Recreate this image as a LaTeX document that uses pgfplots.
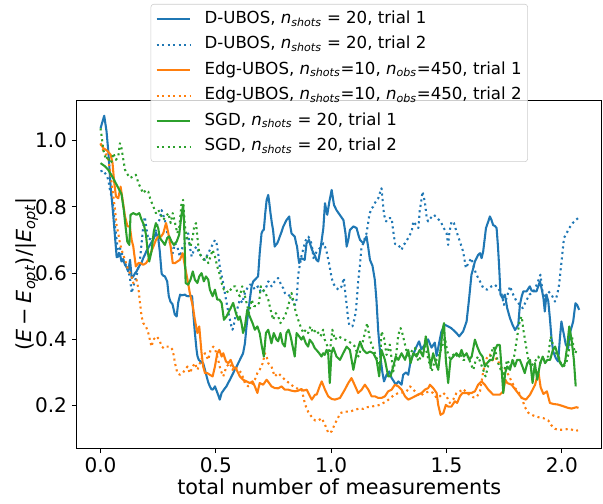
\documentclass[border=0pt]{standalone}
\usepackage{fontspec}
\setmainfont{DejaVu Sans}
\usepackage{pgfplots}
\pgfplotsset{compat=1.18}
\definecolor{c0}{HTML}{1F77B4}
\definecolor{c1}{HTML}{FF7F0E}
\definecolor{c2}{HTML}{2CA02C}
\newcommand{\ns}{\textit{n}\textsubscript{\textit{shots}}}
\newcommand{\no}{\textit{n}\textsubscript{\textit{obs}}}
\newcommand{\Eo}{\textit{E}\textsubscript{\textit{opt}}}
\begin{document}
\begin{tikzpicture}
\useasboundingbox (-55.4pt,-40.3pt) rectangle (380.4pt,323.9pt);
\begin{axis}[
  scale only axis, width=379.6pt, height=251.2pt,
  xmin=-0.1035, xmax=2.1735, ymin=0.0714, ymax=1.1208,
  xtick={0,0.5,1,1.5,2}, xticklabels={0.0,0.5,1.0,1.5,2.0},
  ytick={0.2,0.4,0.6,0.8,1.0}, yticklabels={0.2,0.4,0.6,0.8,1.0},
  tick pos=left, tick align=outside, major tick length=3.5pt,
  every tick/.style={black, line width=0.8pt},
  axis line style={line width=0.8pt},
  ticklabel style={font=\fontsize{14.5}{17}\selectfont},
  xlabel={total number of measurements},
  xlabel style={at={(axis description cs:0.5,-0.1343)}, anchor=base, font=\fontsize{15}{18}\selectfont},
  ylabel={(\textit{E}\hspace{0.22em}−\hspace{0.22em}\Eo)/|\Eo|},
  ylabel style={at={(axis description cs:-0.0946,0.5)}, anchor=center, font=\fontsize{15}{18}\selectfont},
  legend style={at={(0.5,1.278)}, anchor=north, font=\fontsize{12}{14}\selectfont,
    draw=black!20, rounded corners=2pt, fill=white, fill opacity=0.8, text opacity=1,
    row sep=4.6pt, inner xsep=3.3pt, inner ysep=4pt,
    nodes={inner sep=1pt, text height=8.8pt, text depth=3pt}},
  legend cell align=left,
  legend image code/.code={\draw[#1] (0pt,0pt) -- (24.5pt,0pt); \path (33pt,0pt);},
  every axis plot/.append style={line width=1.5pt, line join=round},
]
\addplot[c0] table {
0.000 1.037
0.016 1.075
0.026 1.028
0.034 0.965
0.044 0.86
0.055 0.776
0.062 0.716
0.070 0.648
0.077 0.650
0.084 0.658
0.091 0.635
0.099 0.640
0.106 0.625
0.113 0.618
0.120 0.605
0.128 0.640
0.135 0.585
0.142 0.590
0.150 0.600
0.156 0.605
0.163 0.615
0.171 0.625
0.178 0.632
0.185 0.645
0.192 0.655
0.200 0.668
0.210 0.680
0.220 0.692
0.229 0.702
0.240 0.722
0.250 0.706
0.257 0.665
0.265 0.598
0.272 0.592
0.279 0.590
0.289 0.575
0.296 0.530
0.303 0.514
0.312 0.506
0.322 0.475
0.330 0.469
0.337 0.512
0.345 0.535
0.352 0.533
0.360 0.534
0.366 0.535
0.373 0.531
0.380 0.530
0.390 0.532
0.397 0.530
0.402 0.48
0.409 0.42
0.416 0.37
0.420 0.35
0.426 0.338
0.431 0.335
0.438 0.330
0.445 0.328
0.452 0.31
0.460 0.288
0.467 0.27
0.474 0.258
0.480 0.25
0.486 0.248
0.491 0.252
0.496 0.258
0.503 0.245
0.510 0.232
0.517 0.218
0.525 0.238
0.532 0.245
0.539 0.252
0.546 0.258
0.553 0.268
0.561 0.278
0.568 0.288
0.575 0.298
0.582 0.308
0.590 0.318
0.597 0.328
0.604 0.338
0.611 0.348
0.618 0.358
0.626 0.388
0.633 0.44
0.640 0.48
0.647 0.519
0.655 0.56
0.662 0.575
0.669 0.58
0.676 0.585
0.683 0.59
0.690 0.66
0.698 0.72
0.703 0.728
0.708 0.731
0.714 0.78
0.720 0.82
0.727 0.836
0.732 0.81
0.737 0.78
0.743 0.75
0.748 0.73
0.755 0.68
0.760 0.685
0.766 0.69
0.772 0.70
0.777 0.71
0.785 0.725
0.792 0.74
0.799 0.75
0.806 0.76
0.812 0.765
0.818 0.771
0.823 0.74
0.828 0.72
0.835 0.715
0.842 0.71
0.848 0.69
0.852 0.68
0.857 0.65
0.861 0.63
0.866 0.64
0.871 0.645
0.878 0.642
0.885 0.64
0.893 0.69
0.898 0.695
0.904 0.70
0.910 0.685
0.916 0.672
0.922 0.662
0.930 0.652
0.936 0.64
0.944 0.635
0.954 0.675
0.966 0.736
0.973 0.811
0.983 0.776
0.992 0.816
1.002 0.851
1.012 0.806
1.023 0.79
1.038 0.775
1.053 0.76
1.062 0.72
1.067 0.68
1.074 0.70
1.081 0.73
1.096 0.741
1.110 0.736
1.118 0.715
1.125 0.70
1.139 0.69
1.153 0.711
1.160 0.68
1.168 0.64
1.179 0.622
1.189 0.58
1.196 0.52
1.204 0.424
1.214 0.343
1.222 0.30
1.229 0.273
1.240 0.293
1.252 0.303
1.262 0.283
1.270 0.275
1.280 0.263
1.291 0.273
1.305 0.263
1.312 0.293
1.324 0.300
1.334 0.293
1.344 0.333
1.355 0.353
1.367 0.374
1.381 0.394
1.391 0.37
1.406 0.384
1.420 0.40
1.435 0.375
1.449 0.39
1.457 0.35
1.464 0.375
1.478 0.424
1.493 0.444
1.507 0.439
1.520 0.434
1.536 0.424
1.548 0.415
1.555 0.409
1.565 0.418
1.572 0.424
1.587 0.454
1.598 0.524
1.608 0.595
1.616 0.615
1.623 0.635
1.637 0.655
1.645 0.66
1.652 0.645
1.659 0.666
1.671 0.736
1.681 0.756
1.688 0.771
1.695 0.76
1.702 0.745
1.710 0.742
1.717 0.736
1.723 0.68
1.728 0.62
1.734 0.535
1.743 0.524
1.753 0.535
1.763 0.494
1.775 0.464
1.786 0.444
1.797 0.428
1.811 0.444
1.818 0.504
1.826 0.53
1.833 0.545
1.847 0.545
1.861 0.56
1.868 0.548
1.876 0.545
1.890 0.545
1.905 0.575
1.913 0.55
1.920 0.525
1.926 0.484
1.933 0.535
1.941 0.515
1.948 0.464
1.955 0.404
1.962 0.364
1.974 0.343
1.984 0.333
1.991 0.40
1.998 0.454
2.006 0.424
2.017 0.384
2.027 0.373
2.037 0.424
2.049 0.454
2.059 0.509
2.066 0.504
2.075 0.489
};
\addlegendentry{D-UBOS, \ns{} = 20, trial 1}
\addplot[c0, dash pattern=on 1.5pt off 2.475pt, line cap=butt] table {
0.000 0.907
0.012 0.91
0.019 0.902
0.027 0.895
0.034 0.88
0.041 0.851
0.048 0.83
0.055 0.80
0.063 0.74
0.070 0.70
0.077 0.65
0.084 0.675
0.091 0.665
0.099 0.64
0.106 0.63
0.113 0.62
0.120 0.605
0.127 0.59
0.135 0.54
0.142 0.56
0.149 0.575
0.159 0.60
0.165 0.62
0.171 0.64
0.178 0.69
0.185 0.74
0.192 0.77
0.200 0.73
0.205 0.71
0.211 0.70
0.221 0.71
0.231 0.70
0.237 0.72
0.243 0.74
0.249 0.75
0.255 0.76
0.260 0.775
0.265 0.79
0.272 0.775
0.279 0.76
0.286 0.73
0.294 0.71
0.301 0.69
0.307 0.675
0.313 0.66
0.318 0.675
0.323 0.69
0.333 0.68
0.338 0.665
0.344 0.65
0.350 0.665
0.356 0.68
0.366 0.69
0.373 0.705
0.380 0.72
0.387 0.68
0.395 0.65
0.400 0.66
0.405 0.67
0.416 0.68
0.428 0.66
0.438 0.65
0.446 0.645
0.453 0.64
0.460 0.65
0.467 0.66
0.474 0.67
0.481 0.68
0.489 0.69
0.496 0.70
0.503 0.69
0.510 0.66
0.517 0.62
0.522 0.60
0.529 0.58
0.534 0.56
0.539 0.54
0.544 0.52
0.549 0.50
0.555 0.48
0.561 0.459
0.567 0.44
0.572 0.429
0.577 0.44
0.582 0.459
0.587 0.475
0.592 0.49
0.598 0.505
0.604 0.52
0.610 0.515
0.615 0.51
0.620 0.525
0.626 0.54
0.633 0.55
0.640 0.56
0.648 0.565
0.655 0.565
0.662 0.558
0.669 0.55
0.676 0.555
0.683 0.56
0.690 0.55
0.698 0.54
0.705 0.545
0.712 0.55
0.720 0.56
0.727 0.575
0.734 0.57
0.741 0.56
0.748 0.565
0.755 0.575
0.763 0.58
0.770 0.585
0.777 0.575
0.785 0.56
0.792 0.555
0.799 0.54
0.806 0.535
0.814 0.535
0.821 0.53
0.829 0.525
0.836 0.515
0.843 0.504
0.850 0.52
0.857 0.595
0.864 0.625
0.872 0.655
0.880 0.675
0.887 0.695
0.894 0.705
0.901 0.71
0.909 0.70
0.916 0.685
0.923 0.645
0.930 0.655
0.937 0.665
0.944 0.67
0.951 0.675
0.958 0.68
0.966 0.69
0.973 0.68
0.980 0.665
0.986 0.645
0.992 0.625
1.002 0.585
1.009 0.57
1.016 0.56
1.023 0.555
1.031 0.55
1.038 0.552
1.045 0.56
1.055 0.585
1.061 0.54
1.067 0.504
1.072 0.47
1.078 0.444
1.085 0.44
1.092 0.439
1.100 0.46
1.107 0.484
1.112 0.53
1.117 0.575
1.124 0.62
1.131 0.675
1.139 0.69
1.146 0.706
1.153 0.72
1.160 0.75
1.165 0.776
1.175 0.796
1.182 0.80
1.189 0.811
1.197 0.82
1.204 0.826
1.210 0.84
1.218 0.856
1.223 0.82
1.229 0.776
1.238 0.756
1.245 0.765
1.252 0.766
1.262 0.766
1.269 0.726
1.277 0.688
1.291 0.685
1.298 0.678
1.305 0.67
1.313 0.685
1.320 0.69
1.334 0.706
1.349 0.726
1.356 0.756
1.367 0.746
1.378 0.736
1.384 0.79
1.388 0.806
1.396 0.846
1.401 0.83
1.406 0.816
1.414 0.766
1.420 0.756
1.431 0.766
1.445 0.776
1.459 0.766
1.474 0.756
1.488 0.736
1.500 0.721
1.507 0.685
1.512 0.72
1.517 0.74
1.522 0.756
1.532 0.751
1.543 0.726
1.558 0.695
1.572 0.665
1.578 0.64
1.584 0.615
1.598 0.635
1.608 0.645
1.619 0.615
1.630 0.595
1.645 0.575
1.659 0.555
1.676 0.55
1.695 0.56
1.709 0.565
1.724 0.555
1.739 0.535
1.749 0.504
1.760 0.524
1.775 0.56
1.789 0.535
1.804 0.514
1.818 0.504
1.830 0.494
1.844 0.514
1.859 0.535
1.876 0.542
1.893 0.568
1.907 0.595
1.916 0.545
1.926 0.525
1.941 0.545
1.955 0.535
1.970 0.514
1.980 0.535
1.988 0.565
1.994 0.605
2.003 0.665
2.009 0.706
2.021 0.721
2.032 0.736
2.047 0.751
2.061 0.761
2.071 0.766
};
\addlegendentry{D-UBOS, \ns{} = 20, trial 2}
\addplot[c1] table {
0.000 0.992
0.012 0.977
0.024 0.972
0.031 0.968
0.038 0.962
0.044 0.957
0.052 0.932
0.056 0.90
0.060 0.87
0.067 0.831
0.077 0.826
0.087 0.861
0.096 0.82
0.106 0.771
0.117 0.741
0.127 0.741
0.135 0.70
0.142 0.68
0.153 0.62
0.164 0.63
0.174 0.63
0.185 0.625
0.197 0.63
0.207 0.64
0.217 0.66
0.229 0.68
0.240 0.70
0.250 0.71
0.262 0.71
0.272 0.72
0.284 0.751
0.294 0.72
0.304 0.68
0.313 0.63
0.323 0.63
0.333 0.635
0.344 0.64
0.356 0.66
0.366 0.62
0.377 0.58
0.387 0.54
0.400 0.50
0.409 0.459
0.420 0.419
0.428 0.439
0.438 0.358
0.445 0.318
0.453 0.298
0.463 0.298
0.474 0.293
0.486 0.288
0.496 0.318
0.506 0.358
0.515 0.368
0.525 0.348
0.532 0.358
0.544 0.333
0.554 0.328
0.564 0.338
0.575 0.318
0.590 0.308
0.604 0.288
0.618 0.278
0.633 0.273
0.647 0.268
0.659 0.273
0.669 0.258
0.680 0.238
0.690 0.268
0.705 0.263
0.720 0.278
0.731 0.268
0.741 0.258
0.755 0.253
0.770 0.252
0.785 0.258
0.799 0.248
0.814 0.248
0.828 0.245
0.843 0.243
0.857 0.245
0.871 0.25
0.879 0.245
0.894 0.248
0.908 0.228
0.916 0.218
0.930 0.233
0.937 0.233
0.951 0.26
0.959 0.273
0.973 0.248
0.987 0.228
1.002 0.22
1.016 0.218
1.038 0.223
1.059 0.248
1.074 0.268
1.088 0.283
1.103 0.26
1.117 0.238
1.132 0.248
1.146 0.263
1.161 0.248
1.175 0.228
1.190 0.228
1.204 0.223
1.218 0.223
1.233 0.228
1.247 0.243
1.262 0.248
1.276 0.263
1.291 0.258
1.305 0.248
1.320 0.228
1.334 0.218
1.349 0.223
1.363 0.228
1.377 0.233
1.392 0.238
1.406 0.248
1.421 0.253
1.428 0.263
1.442 0.253
1.457 0.238
1.464 0.202
1.474 0.172
1.486 0.177
1.497 0.202
1.507 0.197
1.521 0.197
1.536 0.213
1.546 0.208
1.558 0.228
1.569 0.238
1.588 0.238
1.608 0.238
1.623 0.243
1.637 0.263
1.652 0.273
1.666 0.263
1.681 0.248
1.702 0.233
1.731 0.233
1.746 0.243
1.755 0.278
1.763 0.268
1.782 0.263
1.804 0.243
1.826 0.223
1.844 0.218
1.862 0.233
1.884 0.263
1.898 0.303
1.908 0.255
1.920 0.235
1.935 0.243
1.948 0.208
1.962 0.205
1.984 0.203
2.006 0.198
2.027 0.193
2.042 0.191
2.063 0.195
2.072 0.193
};
\addlegendentry{Edg-UBOS, \ns=10, \no=450, trial 1}
\addplot[c1, dash pattern=on 1.5pt off 2.475pt, line cap=butt] table {
0.000 0.99
0.012 0.97
0.027 0.955
0.034 0.942
0.041 0.912
0.052 0.851
0.063 0.791
0.070 0.741
0.077 0.72
0.084 0.69
0.096 0.66
0.106 0.64
0.120 0.61
0.135 0.59
0.142 0.57
0.156 0.58
0.165 0.55
0.171 0.51
0.178 0.469
0.185 0.449
0.197 0.439
0.207 0.419
0.214 0.399
0.221 0.378
0.229 0.399
0.243 0.409
0.255 0.399
0.265 0.378
0.275 0.373
0.286 0.378
0.301 0.378
0.313 0.368
0.323 0.328
0.333 0.298
0.344 0.293
0.356 0.298
0.366 0.308
0.377 0.318
0.387 0.298
0.400 0.318
0.409 0.328
0.420 0.308
0.431 0.328
0.442 0.348
0.453 0.358
0.467 0.338
0.477 0.368
0.489 0.378
0.500 0.363
0.510 0.338
0.520 0.308
0.532 0.288
0.546 0.318
0.561 0.328
0.572 0.308
0.582 0.318
0.597 0.308
0.611 0.298
0.626 0.268
0.640 0.258
0.655 0.263
0.669 0.278
0.680 0.298
0.690 0.308
0.703 0.328
0.713 0.358
0.720 0.348
0.727 0.328
0.741 0.318
0.755 0.288
0.770 0.298
0.785 0.288
0.799 0.278
0.814 0.27
0.828 0.262
0.843 0.255
0.857 0.25
0.872 0.248
0.887 0.203
0.901 0.18
0.916 0.165
0.930 0.155
0.944 0.155
0.959 0.162
0.973 0.142
0.988 0.117
1.002 0.122
1.016 0.145
1.031 0.165
1.038 0.177
1.059 0.182
1.081 0.182
1.103 0.187
1.125 0.192
1.139 0.19
1.154 0.195
1.175 0.197
1.197 0.2
1.211 0.202
1.226 0.208
1.240 0.213
1.255 0.222
1.269 0.23
1.291 0.238
1.313 0.24
1.327 0.243
1.342 0.258
1.356 0.248
1.370 0.238
1.384 0.228
1.399 0.236
1.414 0.24
1.428 0.243
1.442 0.238
1.457 0.223
1.471 0.228
1.486 0.238
1.500 0.228
1.514 0.208
1.529 0.218
1.543 0.238
1.558 0.243
1.572 0.25
1.594 0.235
1.616 0.225
1.630 0.225
1.645 0.243
1.659 0.303
1.674 0.343
1.688 0.354
1.702 0.333
1.717 0.343
1.739 0.313
1.753 0.313
1.768 0.293
1.782 0.273
1.797 0.253
1.811 0.243
1.826 0.223
1.840 0.195
1.855 0.178
1.876 0.17
1.898 0.165
1.920 0.162
1.941 0.155
1.955 0.14
1.970 0.13
1.984 0.127
2.006 0.127
2.032 0.13
2.057 0.124
2.070 0.125
};
\addlegendentry{Edg-UBOS, \ns=10, \no=450, trial 2}
\addplot[c2] table {
0.000 0.932
0.020 0.922
0.033 0.912
0.048 0.895
0.062 0.877
0.077 0.857
0.091 0.838
0.101 0.79
0.106 0.756
0.116 0.695
0.125 0.685
0.130 0.776
0.142 0.781
0.156 0.776
0.168 0.781
0.178 0.761
0.188 0.746
0.197 0.716
0.203 0.675
0.211 0.635
0.221 0.665
0.231 0.726
0.240 0.751
0.250 0.736
0.257 0.706
0.269 0.695
0.279 0.685
0.289 0.706
0.298 0.711
0.308 0.695
0.318 0.685
0.330 0.695
0.341 0.716
0.351 0.776
0.358 0.806
0.362 0.76
0.366 0.65
0.369 0.57
0.380 0.565
0.390 0.58
0.400 0.605
0.409 0.58
0.420 0.57
0.428 0.59
0.438 0.60
0.448 0.575
0.457 0.59
0.467 0.58
0.474 0.55
0.486 0.53
0.496 0.55
0.506 0.52
0.515 0.52
0.525 0.51
0.535 0.459
0.546 0.469
0.553 0.479
0.564 0.494
0.575 0.51
0.587 0.479
0.597 0.459
0.604 0.469
0.611 0.449
0.618 0.419
0.626 0.439
0.636 0.489
0.647 0.469
0.659 0.449
0.669 0.429
0.680 0.439
0.690 0.419
0.699 0.38
0.708 0.348
0.717 0.419
0.727 0.429
0.734 0.409
0.741 0.388
0.751 0.419
0.763 0.399
0.770 0.394
0.780 0.419
0.789 0.388
0.799 0.378
0.806 0.419
0.815 0.429
0.824 0.409
0.833 0.378
0.842 0.348
0.850 0.419
0.861 0.409
0.871 0.399
0.879 0.409
0.890 0.388
0.900 0.378
0.907 0.399
0.919 0.388
0.929 0.373
0.936 0.368
0.948 0.358
0.958 0.348
0.965 0.358
0.972 0.353
0.980 0.368
0.987 0.358
0.994 0.268
1.001 0.358
1.009 0.375
1.023 0.348
1.038 0.338
1.052 0.358
1.067 0.378
1.081 0.368
1.096 0.308
1.110 0.358
1.125 0.393
1.139 0.368
1.154 0.358
1.168 0.363
1.183 0.358
1.197 0.338
1.208 0.288
1.218 0.368
1.233 0.338
1.247 0.288
1.257 0.288
1.269 0.318
1.280 0.348
1.291 0.338
1.305 0.358
1.320 0.338
1.334 0.368
1.344 0.328
1.356 0.358
1.370 0.348
1.384 0.368
1.398 0.348
1.410 0.409
1.420 0.368
1.431 0.318
1.442 0.358
1.454 0.328
1.464 0.308
1.474 0.368
1.483 0.429
1.489 0.449
1.497 0.338
1.507 0.268
1.517 0.338
1.529 0.348
1.543 0.358
1.555 0.348
1.565 0.368
1.575 0.348
1.587 0.358
1.598 0.338
1.609 0.348
1.623 0.399
1.633 0.378
1.645 0.358
1.656 0.348
1.666 0.318
1.676 0.328
1.688 0.338
1.700 0.338
1.710 0.368
1.720 0.383
1.731 0.383
1.738 0.318
1.746 0.238
1.754 0.298
1.763 0.318
1.775 0.308
1.786 0.338
1.796 0.318
1.806 0.338
1.818 0.338
1.829 0.318
1.839 0.298
1.850 0.328
1.862 0.338
1.873 0.268
1.883 0.328
1.893 0.278
1.906 0.328
1.917 0.348
1.927 0.328
1.937 0.338
1.949 0.338
1.961 0.368
1.971 0.378
1.980 0.358
1.993 0.328
2.003 0.318
2.013 0.328
2.023 0.378
2.032 0.439
2.042 0.399
2.052 0.338
2.060 0.258
};
\addlegendentry{SGD, \ns{} = 20, trial 1}
\addplot[c2, dash pattern=on 1.5pt off 2.475pt, line cap=butt] table {
0.000 1.037
0.005 1.012
0.012 0.972
0.024 0.942
0.034 0.952
0.041 0.932
0.048 0.937
0.055 0.962
0.067 0.942
0.077 0.952
0.084 0.992
0.091 0.977
0.099 0.942
0.106 0.912
0.113 0.902
0.128 0.887
0.142 0.892
0.153 0.897
0.164 0.872
0.174 0.857
0.185 0.841
0.197 0.851
0.207 0.846
0.217 0.821
0.229 0.801
0.240 0.781
0.250 0.791
0.261 0.776
0.272 0.761
0.284 0.771
0.294 0.781
0.304 0.751
0.313 0.781
0.323 0.751
0.333 0.72
0.342 0.741
0.351 0.811
0.358 0.821
0.366 0.741
0.373 0.71
0.380 0.70
0.390 0.68
0.400 0.71
0.406 0.741
0.414 0.751
0.421 0.70
0.428 0.66
0.438 0.65
0.448 0.64
0.460 0.65
0.467 0.63
0.477 0.65
0.486 0.67
0.496 0.65
0.506 0.62
0.515 0.60
0.525 0.57
0.535 0.55
0.544 0.55
0.554 0.54
0.564 0.55
0.575 0.56
0.585 0.56
0.594 0.54
0.604 0.53
0.614 0.56
0.623 0.54
0.633 0.51
0.644 0.479
0.655 0.52
0.665 0.50
0.676 0.50
0.687 0.51
0.695 0.56
0.705 0.55
0.715 0.54
0.727 0.52
0.737 0.49
0.748 0.459
0.760 0.479
0.770 0.469
0.780 0.449
0.789 0.459
0.799 0.469
0.809 0.49
0.821 0.52
0.828 0.54
0.835 0.52
0.847 0.479
0.857 0.459
0.867 0.439
0.879 0.419
0.890 0.429
0.900 0.419
0.910 0.439
0.922 0.419
0.934 0.429
0.944 0.419
0.954 0.409
0.965 0.429
0.972 0.399
0.983 0.38
0.994 0.358
1.005 0.429
1.016 0.399
1.030 0.409
1.045 0.404
1.059 0.399
1.074 0.394
1.088 0.388
1.103 0.378
1.118 0.348
1.132 0.378
1.146 0.419
1.156 0.449
1.168 0.398
1.182 0.373
1.197 0.343
1.211 0.313
1.218 0.424
1.229 0.404
1.240 0.353
1.254 0.384
1.269 0.303
1.280 0.343
1.291 0.414
1.301 0.434
1.310 0.414
1.320 0.384
1.334 0.343
1.349 0.364
1.363 0.374
1.378 0.333
1.392 0.353
1.406 0.384
1.420 0.343
1.435 0.303
1.449 0.333
1.464 0.343
1.478 0.374
1.493 0.404
1.503 0.364
1.514 0.343
1.529 0.353
1.540 0.358
1.550 0.343
1.560 0.358
1.572 0.338
1.584 0.338
1.594 0.348
1.604 0.328
1.616 0.308
1.627 0.338
1.637 0.348
1.648 0.328
1.659 0.308
1.669 0.288
1.680 0.318
1.690 0.348
1.703 0.378
1.714 0.358
1.724 0.328
1.735 0.308
1.746 0.288
1.754 0.318
1.764 0.338
1.775 0.318
1.786 0.328
1.796 0.358
1.804 0.399
1.811 0.429
1.818 0.459
1.826 0.469
1.833 0.429
1.845 0.378
1.855 0.338
1.865 0.318
1.877 0.328
1.888 0.338
1.898 0.348
1.908 0.328
1.920 0.338
1.931 0.348
1.941 0.348
1.951 0.409
1.964 0.378
1.975 0.358
1.986 0.348
1.996 0.328
2.007 0.318
2.019 0.328
2.029 0.358
2.036 0.399
2.044 0.409
2.050 0.378
2.058 0.358
2.064 0.368
};
\addlegendentry{SGD, \ns{} = 20, trial 2}
\node[anchor=base east, font=\fontsize{15}{18}\selectfont] at (axis description cs:1,-0.1343) {1e7};
\end{axis}
\end{tikzpicture}
\end{document}
